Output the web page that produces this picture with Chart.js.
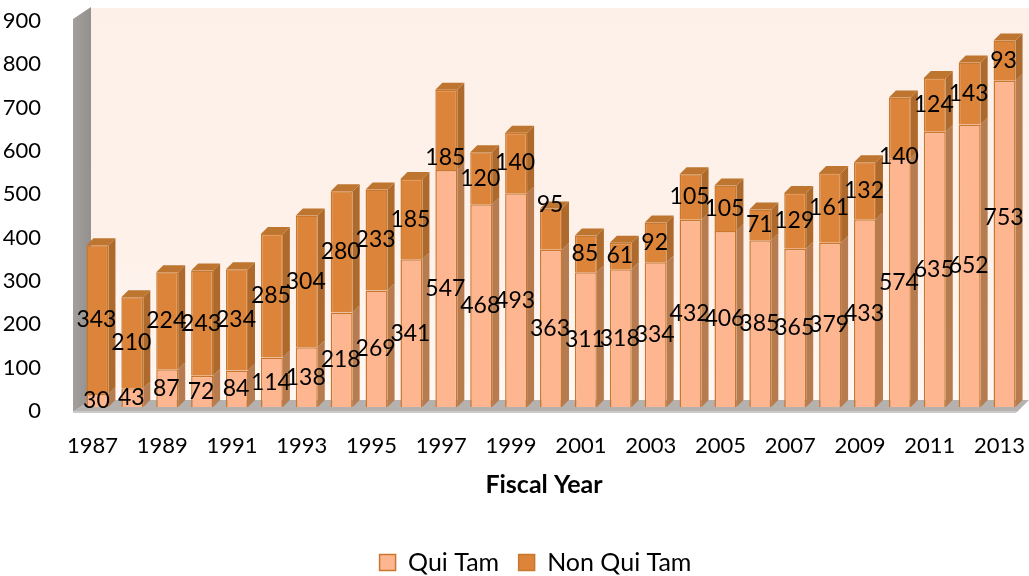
<!DOCTYPE html>
<html>
<head>
<meta charset="utf-8">
<title>Qui Tam and Non Qui Tam by Fiscal Year</title>
<script src="https://cdn.jsdelivr.net/npm/chart.js@4/dist/chart.umd.min.js"></script>
<style>
  html, body { margin: 0; padding: 0; background: #fff; }
  canvas { display: block; }
</style>
</head>
<body>
<canvas id="casesChart" width="1029" height="576"></canvas>
<script>
const years = [
  "1987", "1988", "1989", "1990", "1991", "1992", "1993", "1994", "1995",
  "1996", "1997", "1998", "1999", "2000", "2001", "2002", "2003", "2004",
  "2005", "2006", "2007", "2008", "2009", "2010", "2011", "2012", "2013"
];
const quiTam = [
  30, 43, 87, 72, 84, 114, 138, 218, 269, 341, 547, 468, 493, 363,
  311, 318, 334, 432, 406, 385, 365, 379, 433, 574, 635, 652, 753
];
const nonQuiTam = [
  343, 210, 224, 243, 234, 285, 304, 280, 233, 185, 185, 120, 140, 95,
  85, 61, 92, 105, 105, 71, 129, 161, 132, 140, 124, 143, 93
];

const FONT = "Lato, Carlito, sans-serif";
const BAR_DX = 7, BAR_DY = 7;      // depth of the bars
const WALL_DX = 18, WALL_DY = 12;  // depth of the walls and floor

// labels the original had dragged off the middle of their segment: "dataset-index": px
const labelNudge = { "1-10": 28, "1-13": -25, "1-23": 29, "0-26": -26 };

function poly(ctx, fill, pts) {
  ctx.fillStyle = fill;
  ctx.beginPath();
  pts.forEach((p, i) => i ? ctx.lineTo(p[0], p[1]) : ctx.moveTo(p[0], p[1]));
  ctx.closePath();
  ctx.fill();
}

const scene3d = {
  id: "scene3d",
  afterLayout(chart) {
    // put the legend where the original has it, not where the library centres it
    const l = chart.legend;
    const w = l.right - l.left;
    const pad = l.options.labels.padding;
    l.left = 535.5 - w / 2;
    l.right = 535.5 + w / 2;
    l.top = 550 - pad;
    l.bottom = l.top + l.height;
  },
  beforeDatasetsDraw(chart) {
    const ctx = chart.ctx;
    const y = chart.scales.y;
    const left = y.right - 7, right = 1017;
    const top = y.top, base = y.bottom + 5;

    // back wall
    const wall = ctx.createLinearGradient(0, top - WALL_DY, 0, base);
    wall.addColorStop(0, "#fdf0e8");
    wall.addColorStop(0.6, "#fef1ea");
    wall.addColorStop(1, "#fff8f4");
    poly(ctx, wall, [
      [left + WALL_DX, top - 9], [1029, top - 9],
      [1029, base - WALL_DY], [left + WALL_DX, base - WALL_DY]
    ]);

    // side wall
    const side = ctx.createLinearGradient(left, 0, left + WALL_DX, 0);
    side.addColorStop(0, "#a39f9d");
    side.addColorStop(1, "#94908e");
    poly(ctx, side, [
      [left, top + 2], [left + WALL_DX, top - 10],
      [left + WALL_DX, base - WALL_DY], [left, base]
    ]);

    // floor
    poly(ctx, "#b5b1ae", [
      [left, base], [left + WALL_DX, base - WALL_DY],
      [1029, base - WALL_DY], [right, base]
    ]);
    poly(ctx, "#cbc9cc", [[left, base - 1], [right, base - 1], [right - 1, base + 1], [left, base + 1]]);

    // sides and tops of the bars, drawn behind the fronts
    const sideCols = ["#b77b50", "#ad6a2c"];
    [0, 1].forEach(d => {
      chart.getDatasetMeta(d).data.forEach(bar => {
        const p = bar.getProps(["x", "y", "base", "width"], true);
        const r = p.x + p.width / 2, l = p.x - p.width / 2;
        poly(ctx, sideCols[d], [
          [r, p.y], [r + BAR_DX, p.y - BAR_DY],
          [r + BAR_DX, p.base - BAR_DY], [r, p.base]
        ]);
        if (d === 1) {
          poly(ctx, "#bd752f", [
            [l, p.y], [l + BAR_DX, p.y - BAR_DY],
            [r + BAR_DX, p.y - BAR_DY], [r, p.y]
          ]);
        }
      });
    });
  },
  afterDatasetsDraw(chart) {
    const ctx = chart.ctx;
    ctx.save();
    ctx.font = "23px " + FONT;
    ctx.fillStyle = "#000";
    ctx.textAlign = "center";
    ctx.textBaseline = "middle";
    [quiTam, nonQuiTam].forEach((vals, d) => {
      chart.getDatasetMeta(d).data.forEach((bar, i) => {
        const p = bar.getProps(["x", "y", "base"], true);
        const nudge = labelNudge[d + "-" + i] || 0;
        ctx.fillText(vals[i], p.x - 1, (p.y + p.base) / 2 + nudge);
      });
    });

    // axis title
    ctx.font = "bold 25px " + FONT;
    ctx.fillText("Fiscal Year", 544, 485);
    ctx.restore();
  }
};

new Chart(document.getElementById("casesChart"), {
  type: "bar",
  data: {
    labels: years,
    datasets: [
      {
        label: "Qui Tam",
        data: quiTam,
        backgroundColor: "#fdb68f",
        borderColor: "#c9772f",
        borderWidth: 1.5,
        barPercentage: 0.63,
        categoryPercentage: 1
      },
      {
        label: "Non Qui Tam",
        data: nonQuiTam,
        backgroundColor: "#dc8439",
        borderColor: "#c8782f",
        borderWidth: 1.5,
        barPercentage: 0.63,
        categoryPercentage: 1
      }
    ]
  },
  options: {
    responsive: false,
    animation: false,
    layout: { padding: { top: 17, right: 7 } },
    plugins: {
      tooltip: { enabled: false },
      legend: {
        position: "bottom",
        maxHeight: 50,
        labels: {
          boxWidth: 16,
          boxHeight: 16,
          padding: 19.5,
          color: "#000",
          font: { family: FONT, size: 25 }
        }
      }
    },
    scales: {
      x: {
        stacked: true,
        // the last label's half width would otherwise shrink the plot area
        afterFit: s => { s.height = 119; s.paddingLeft = 0; s.paddingRight = 0; },
        grid: { display: false },
        border: { display: false },
        ticks: {
          color: "#000",
          font: { family: FONT, size: 22 },
          autoSkip: false,
          maxRotation: 0,
          padding: 18,
          labelOffset: -5,
          callback: (v, i) => (i % 2 ? "" : years[i])
        }
      },
      y: {
        stacked: true,
        min: 0,
        max: 900,
        // tick padding would otherwise also push the plot area down
        afterFit: s => { s.width = 80; s.paddingTop = 0; s.paddingBottom = 0; },
        grid: { display: false },
        border: { display: false },
        ticks: {
          color: "#000",
          font: { family: FONT, size: 22 },
          stepSize: 100,
          padding: 31,
          labelOffset: 4
        }
      }
    }
  },
  plugins: [scene3d]
});
</script>
</body>
</html>
